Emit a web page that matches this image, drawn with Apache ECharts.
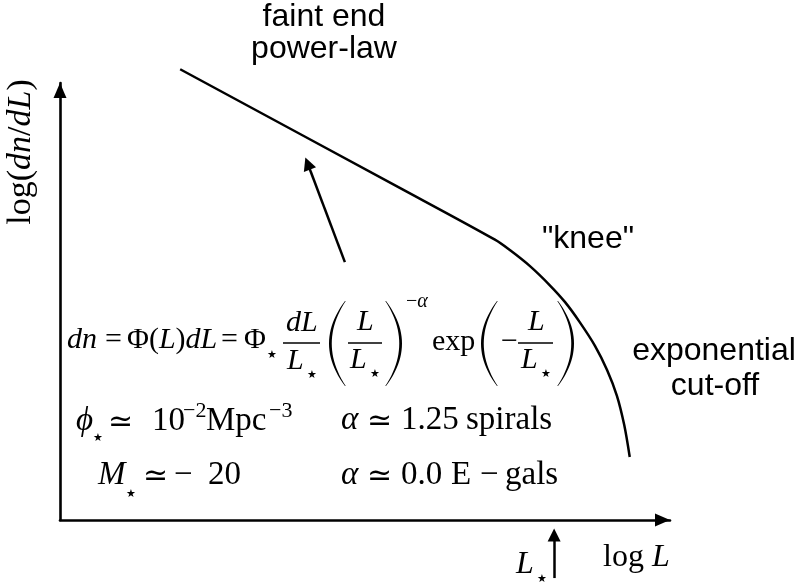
<!DOCTYPE html>
<html>
<head>
<meta charset="utf-8">
<script src="https://cdn.jsdelivr.net/npm/echarts@6/dist/echarts.min.js"></script>
<style>
  html, body { margin: 0; padding: 0; background: #fff; }
  #chart { width: 801px; height: 583px; }
</style>
</head>
<body>
<div id="chart"></div>
<script>
// Schechter luminosity function sketch, in (log L, log dn/dL) axis units
const logL   = [1.97, 5.57, 7.13, 7.38, 7.70, 8.03, 8.28, 8.52, 8.77, 8.97, 9.13, 9.25, 9.34];
const logPhi = [7.22, 5.32, 4.49, 4.32, 4.07, 3.76, 3.49, 3.17, 2.79, 2.40, 1.99, 1.52, 1.01];

// arrow pointing at the faint-end power law
const pointerFrom = [4.67, 4.13];
const pointerTo   = [4.06, 5.71];

// characteristic luminosity L* marked below the x axis
const lStar = 8.10;
const lStarMarker = [-0.93, -0.24];

const axisRange = { xMin: 0, xMax: 10, yMin: 0, yMax: 7 };

const SERIF = '"Liberation Serif", "Times New Roman", Times, serif';
const SANS = '"Liberation Sans", Arial, Helvetica, sans-serif';
const SYM = '"DejaVu Serif", "DejaVu Sans", serif';

const curve = logL.map((x, i) => [x, logPhi[i]]);

const graphics = [];

function rich(size) {
  return {
    i: { fontStyle: 'italic', fontSize: size, fontFamily: SERIF, fill: '#000' },
    s: { fontSize: size, fontFamily: SYM, fill: '#000' }
  };
}
// text placed by left edge and baseline
function txt(text, x, base, size, extra) {
  graphics.push({
    type: 'text', silent: true, x: x, y: base - 0.34 * size,
    style: Object.assign({
      text: text, fontSize: size, fontFamily: SERIF, fill: '#000',
      align: 'left', verticalAlign: 'middle', rich: rich(size)
    }, extra || {})
  });
}
function sans(text, cx, base, size) {
  graphics.push({
    type: 'text', silent: true, x: cx, y: base - 0.35 * size,
    style: { text: text, fontSize: size, fontFamily: SANS, fill: '#000', align: 'center', verticalAlign: 'middle' }
  });
}
function star(cx, cy) {
  graphics.push({
    type: 'text', silent: true, x: cx, y: cy,
    style: { text: '\u2605', fontSize: 11, fontFamily: '"DejaVu Sans"', fill: '#000', align: 'center', verticalAlign: 'middle' }
  });
}
function bar(x1, x2, y) {
  graphics.push({
    type: 'line', silent: true,
    shape: { x1: x1, y1: y, x2: x2, y2: y },
    style: { stroke: '#000', lineWidth: 1.6 }
  });
}
// tall delimiter: ends at xEnd, bulging out to xBulge (filled crescent)
function paren(xEnd, xBulge, yTop, yBot) {
  const dir = xBulge < xEnd ? 1 : -1;
  const cOut = 2 * xBulge - xEnd;
  const cIn = 2 * (xBulge + 2.4 * dir) - xEnd;
  const e = 0.7 * dir;
  const ym = (yTop + yBot) / 2;
  const pts = [];
  const n = 24;
  for (let k = 0; k <= n; k++) {
    const t = k / n;
    const x = (1 - t) * (1 - t) * xEnd + 2 * t * (1 - t) * cOut + t * t * xEnd;
    const y = (1 - t) * (1 - t) * yTop + 2 * t * (1 - t) * ym + t * t * yBot;
    pts.push([x, y]);
  }
  for (let k = n; k >= 0; k--) {
    const t = k / n;
    const x = (1 - t) * (1 - t) * (xEnd + e) + 2 * t * (1 - t) * cIn + t * t * (xEnd + e);
    const y = (1 - t) * (1 - t) * yTop + 2 * t * (1 - t) * ym + t * t * yBot;
    pts.push([x, y]);
  }
  graphics.push({ type: 'polygon', silent: true, shape: { points: pts }, style: { fill: '#000' } });
}

// --- formula, first row
const F1 = 30;
txt('{i|dn}', 67, 350, F1);
txt('=', 105, 350, F1);
txt('\u03A6({i|L}){i|dL}', 127, 350, F1);
txt('=', 221, 350, F1);
txt('\u03A6', 244, 350, F1);
star(272, 355);
txt('{i|dL}', 286, 333, F1);
bar(283, 320, 343);
txt('{i|L}', 287, 371, F1);
star(312, 375);
paren(345, 329, 301, 386);
txt('{i|L}', 357, 332, F1);
bar(348, 382, 343);
txt('{i|L}', 350, 370, F1);
star(375, 374);
paren(386, 402, 301, 386);
txt('\u2212{i|\u03B1}', 406, 309, 20);
txt('exp', 432, 352, F1);
paren(497, 481, 301, 386);
txt('\u2212', 501, 352, F1);
txt('{i|L}', 528, 332, F1);
bar(518, 553, 343);
txt('{i|L}', 521, 370, F1);
star(546, 374);
paren(558, 574, 301, 386);

// --- second row
const F2 = 33;
txt('{i|\u03D5}', 76, 433, F2);
star(98, 438);
txt('{s|\u2243}', 108, 433, 30);
txt('10', 152, 433, F2);
txt('\u22122', 183, 419, 22);
txt('Mpc', 206, 433, F2);
txt('\u22123', 269, 419, 22);
txt('{i|\u03B1}', 341, 432, F2);
txt('{s|\u2243}', 367, 432, 30);
txt('1.25', 401, 432, F2);
txt('spirals', 466, 432, F2);

// --- third row
txt('{i|M}', 98, 487, F2);
star(131, 494);
txt('{s|\u2243}', 143, 487, 30);
txt('\u2212', 174, 487, F2);
txt('20', 208, 487, F2);
txt('{i|\u03B1}', 341, 487, F2);
txt('{s|\u2243}', 367, 487, 30);
txt('0.0', 401, 487, F2);
txt('E', 451, 487, F2);
txt('\u2212', 480, 487, F2);
txt('gals', 505, 487, F2);

// --- axis titles
txt('log {i|L}', 603, 568, 32);
txt('{i|L}', 516, 575, 32);
star(542, 579);
graphics.push({
  type: 'text', silent: true, x: 21, y: 152, rotation: Math.PI / 2,
  style: {
    text: 'log({i|dn}/{i|dL})', fontSize: 34, fontFamily: SERIF, fill: '#000',
    align: 'center', verticalAlign: 'middle', rich: rich(34)
  }
});

// --- annotations
sans('faint end', 324, 28, 32);
sans('power-law', 324, 60, 32);
sans('"knee"', 588, 250, 32);
sans('exponential', 714, 362, 32);
sans('cut-off', 715, 397, 32);

const chart = echarts.init(document.getElementById('chart'), null, { renderer: 'canvas' });

const axisCommon = {
  type: 'value',
  axisLabel: { show: false },
  axisTick: { show: false },
  splitLine: { show: false },
  axisLine: {
    show: true,
    symbol: ['none', 'triangle'],
    symbolSize: [13, 15],
    symbolOffset: [0, -7.5],
    lineStyle: { color: '#000', width: 2.6 }
  }
};

chart.setOption({
  animation: false,
  backgroundColor: '#fff',
  grid: { left: 60, top: 83, width: 610, height: 437 },
  xAxis: Object.assign({ min: axisRange.xMin, max: axisRange.xMax }, axisCommon),
  yAxis: Object.assign({ min: axisRange.yMin, max: axisRange.yMax }, axisCommon),
  series: [
    {
      type: 'line',
      data: curve,
      smooth: 0.3,
      showSymbol: false,
      clip: false,
      lineStyle: { color: '#000', width: 2.5 }
    },
    {
      type: 'lines',
      coordinateSystem: 'cartesian2d',
      clip: false,
      symbol: ['none', 'triangle'],
      symbolSize: 13,
      lineStyle: { color: '#000', width: 2.5, opacity: 1 },
      data: [
        { coords: [pointerFrom, pointerTo] },
        { coords: [[lStar, lStarMarker[0]], [lStar, lStarMarker[1]]] }
      ]
    }
  ],
  graphic: graphics
});
</script>
</body>
</html>
